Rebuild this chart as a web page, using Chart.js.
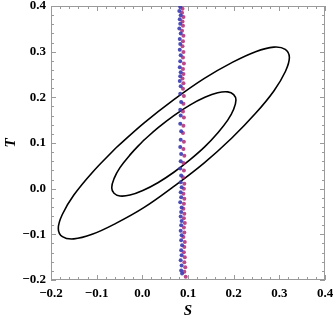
<!DOCTYPE html>
<html>
<head>
<meta charset="utf-8">
<script src="https://cdn.jsdelivr.net/npm/chart.js@4.4.1/dist/chart.umd.min.js"></script>
<style>
  html, body { margin: 0; padding: 0; background: #fff; }
</style>
</head>
<body>
<canvas id="c" width="334" height="318"></canvas>
<script>
// outer contour (S, T)
const outerS = [-0.058, -0.110, -0.150, -0.175, -0.184, -0.175, -0.150, -0.110, -0.058, 0.004, 0.069, 0.135, 0.196, 0.248, 0.288, 0.313, 0.322, 0.313, 0.288, 0.248, 0.196, 0.135, 0.069, 0.004, -0.058];
const outerT = [0.089, 0.035, -0.014, -0.056, -0.087, -0.105, -0.110, -0.100, -0.076, -0.041, 0.005, 0.056, 0.111, 0.165, 0.214, 0.256, 0.287, 0.305, 0.310, 0.300, 0.276, 0.241, 0.195, 0.144, 0.089];

// inner contour
const innerS = [0.001, -0.027, -0.049, -0.062, -0.067, -0.062, -0.049, -0.027, 0.001, 0.034, 0.069, 0.104, 0.137, 0.165, 0.187, 0.200, 0.205, 0.200, 0.187, 0.165, 0.137, 0.104, 0.069, 0.034, 0.001];
const innerT = [0.104, 0.074, 0.046, 0.022, 0.002, -0.010, -0.016, -0.014, -0.004, 0.013, 0.036, 0.063, 0.092, 0.122, 0.150, 0.174, 0.194, 0.206, 0.212, 0.210, 0.200, 0.183, 0.160, 0.133, 0.104];

// blue points
const blueS = [0.083, 0.081, 0.084, 0.082, 0.083, 0.081, 0.084, 0.082, 0.083, 0.082, 0.084, 0.083, 0.082, 0.084, 0.083, 0.082, 0.084, 0.083, 0.085, 0.083, 0.084, 0.083, 0.085, 0.084, 0.083, 0.085, 0.084, 0.083, 0.085, 0.084, 0.086, 0.084, 0.085, 0.083, 0.086, 0.085, 0.084, 0.086, 0.085, 0.084, 0.086, 0.085, 0.087, 0.085, 0.086, 0.084, 0.086, 0.085, 0.087];
const blueT = [0.398, 0.389, 0.380, 0.371, 0.361, 0.351, 0.340, 0.328, 0.317, 0.304, 0.292, 0.279, 0.266, 0.255, 0.246, 0.236, 0.224, 0.208, 0.190, 0.173, 0.160, 0.142, 0.126, 0.107, 0.091, 0.076, 0.060, 0.044, 0.029, 0.014, 0.003, -0.008, -0.019, -0.030, -0.041, -0.051, -0.061, -0.071, -0.080, -0.092, -0.102, -0.113, -0.124, -0.135, -0.146, -0.157, -0.168, -0.179, -0.186];

// magenta points
const redS = [0.088, 0.087, 0.090, 0.088, 0.089, 0.087, 0.090, 0.089, 0.088, 0.090, 0.089, 0.091, 0.089, 0.090, 0.088, 0.090, 0.089, 0.091, 0.090, 0.089, 0.091, 0.090, 0.089, 0.091, 0.090, 0.092, 0.090, 0.091, 0.089, 0.092, 0.091, 0.090, 0.092, 0.091, 0.090, 0.092, 0.091, 0.093, 0.091, 0.092, 0.090, 0.093, 0.092, 0.091, 0.093, 0.092, 0.094, 0.092, 0.095];
const redT = [0.394, 0.385, 0.376, 0.366, 0.357, 0.346, 0.335, 0.323, 0.312, 0.299, 0.287, 0.274, 0.262, 0.251, 0.241, 0.231, 0.219, 0.203, 0.186, 0.169, 0.156, 0.138, 0.122, 0.103, 0.087, 0.072, 0.056, 0.040, 0.025, 0.011, 0.000, -0.011, -0.022, -0.033, -0.044, -0.055, -0.065, -0.075, -0.085, -0.096, -0.106, -0.117, -0.128, -0.139, -0.150, -0.161, -0.172, -0.182, -0.193];

const axisMin = -0.2, axisMax = 0.4;

const toPts = (xs, ys) => xs.map((v, i) => ({ x: v, y: ys[i] }));
const fmt = v => (Math.round(v * 10) / 10).toFixed(1).replace('-', '\u2212');

// mathematica style frame with inward ticks
const frame = {
  id: 'frame',
  beforeDatasetsDraw(chart) {
    const { ctx, chartArea: a, scales: { x, y } } = chart;
    ctx.save();
    ctx.strokeStyle = '#9a9a9a';
    ctx.lineWidth = 1;
    ctx.strokeRect(a.left + 0.5, a.top + 0.5, a.right - a.left - 1, a.bottom - a.top - 1);
    ctx.beginPath();
    for (let i = 0; i <= 30; i++) {
      const v = axisMin + i * 0.02;
      const len = i % 5 === 0 ? 5 : 3;
      const px = Math.round(x.getPixelForValue(v)) + 0.5;
      ctx.moveTo(px, a.bottom); ctx.lineTo(px, a.bottom - len);
      ctx.moveTo(px, a.top); ctx.lineTo(px, a.top + len);
      const py = Math.round(y.getPixelForValue(v)) + 0.5;
      ctx.moveTo(a.left, py); ctx.lineTo(a.left + len, py);
      ctx.moveTo(a.right, py); ctx.lineTo(a.right - len, py);
    }
    ctx.stroke();
    ctx.restore();
  }
};

const tickFont = { family: 'Liberation Serif', weight: 'bold', size: 13 };
const titleFont = { family: 'Liberation Serif', weight: 'bold', style: 'italic', size: 15 };

new Chart(document.getElementById('c'), {
  type: 'scatter',
  data: {
    datasets: [
      { data: toPts(blueS, blueT), backgroundColor: 'rgba(58,58,178,0.9)', borderWidth: 0, pointRadius: 2 },
      { data: toPts(redS, redT), backgroundColor: 'rgba(175,40,115,0.85)', borderWidth: 0, pointRadius: 2 },
      { data: toPts(outerS, outerT), showLine: true, borderColor: '#000', borderWidth: 1.6, pointRadius: 0, tension: 0.4, fill: false },
      { data: toPts(innerS, innerT), showLine: true, borderColor: '#000', borderWidth: 1.6, pointRadius: 0, tension: 0.4, fill: false }
    ]
  },
  options: {
    responsive: false,
    animation: false,
    layout: { padding: { top: 6, right: 9, left: 0, bottom: 0 } },
    plugins: { legend: { display: false }, tooltip: { enabled: false } },
    scales: {
      x: {
        type: 'linear', min: axisMin, max: axisMax,
        grid: { display: false, drawTicks: false }, border: { display: false },
        ticks: { stepSize: 0.1, callback: fmt, font: tickFont, color: '#000', padding: 6, maxRotation: 0, autoSkip: false },
        title: { display: true, text: 'S', font: titleFont, color: '#000', padding: { top: 0, bottom: -2 } },
        afterFit(s) { s.height = 38; s.paddingLeft = 0; s.paddingRight = 0; }
      },
      y: {
        type: 'linear', min: axisMin, max: axisMax,
        grid: { display: false, drawTicks: false }, border: { display: false },
        ticks: { stepSize: 0.1, callback: fmt, font: tickFont, color: '#000', padding: 5, autoSkip: false },
        title: { display: true, text: 'T', font: titleFont, color: '#000', padding: { top: 2, bottom: 0 } },
        afterFit(s) { s.width = 51; s.paddingTop = 0; s.paddingBottom = 0; }
      }
    }
  },
  plugins: [frame]
});
</script>
</body>
</html>
